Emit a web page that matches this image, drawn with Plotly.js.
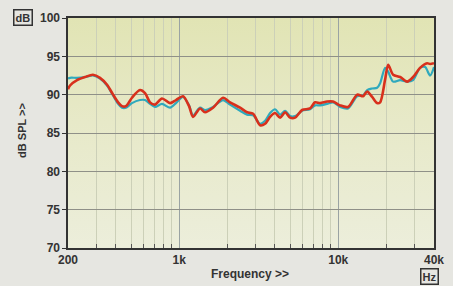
<!DOCTYPE html>
<html>
<head>
<meta charset="utf-8">
<script src="https://cdn.plot.ly/plotly-3.0.1.min.js"></script>
<style>
html,body{margin:0;padding:0;background:#e6e6e1;}
#wrap{position:relative;width:453px;height:286px;}
#bg{position:absolute;left:68px;top:18px;width:366px;height:230px;background:linear-gradient(to bottom,#e1e4b4 0%,#e7e9c8 45%,#eceedb 100%);}
#chart{position:absolute;left:0;top:0;width:453px;height:286px;}
</style>
</head>
<body>
<div id="wrap"><div id="bg"></div><div id="chart"></div></div>
<script>
const freqRed = [200,206,228,256,287,318,352,384,413,437,463,505,567,610,656,705,780,876,955,1057,1154,1222,1352,1455,1633,1887,2089,2415,2672,2916,3226,3468,3728,4007,4310,4634,4980,5354,5928,6650,7150,7690,8510,9280,10280,11530,13150,14330,15200,16340,17550,18340,19720,20600,22140,24490,27100,29560,32700,36200,37800,40000];
const splRed  = [90.7,91.2,91.9,92.3,92.6,92.2,91.3,90.0,89.0,88.5,88.5,89.6,90.6,90.2,89.0,88.7,89.5,88.9,89.3,89.8,88.5,87.1,88.2,87.7,88.3,89.6,89.0,88.3,87.7,87.5,86.0,86.2,87.1,87.6,87.0,87.7,87.0,87.0,88.0,88.2,89.0,88.9,89.1,89.1,88.6,88.4,90.0,89.8,90.4,89.7,88.9,89.0,92.0,93.9,92.6,92.3,91.7,92.3,93.5,94.1,94.0,94.1];
const freqCyan = [200,206,228,256,287,318,352,384,413,437,463,505,567,610,656,705,780,876,955,1057,1154,1222,1352,1455,1633,1887,2089,2415,2672,2916,3226,3468,3728,4007,4310,4634,4980,5354,5928,6650,7150,7690,8510,9280,10280,11530,13150,14330,15200,16340,17550,18340,19720,20600,22140,24490,27100,29560,32700,35200,37800,40000];
const splCyan = [92.1,92.2,92.2,92.3,92.5,92.1,91.2,89.9,88.8,88.3,88.3,88.9,89.3,89.3,88.8,88.4,88.8,88.3,88.9,89.7,88.6,87.3,88.3,88.0,88.4,89.3,88.7,87.9,87.4,87.3,86.2,86.6,87.6,88.1,87.4,87.9,87.2,87.2,87.9,88.1,88.6,88.6,88.8,89.0,88.4,88.2,89.8,89.9,90.6,90.8,90.9,91.5,93.5,93.0,91.7,91.9,91.7,91.9,93.5,93.6,92.5,93.6];
const xTickVals = [200,1000,10000,40000];
const xTickText = ['200','1k','10k','40k'];
const xMinorVals = [300,400,500,600,700,800,900,2000,3000,4000,5000,6000,7000,8000,9000,20000,30000];
const yTickVals = [70,75,80,85,90,95,100];

const traces = [
  {x:freqCyan,y:splCyan,type:'scatter',mode:'lines',line:{color:'#2fa9bd',width:2.2,shape:'spline',smoothing:0.8},hoverinfo:'skip'},
  {x:freqRed,y:splRed,type:'scatter',mode:'lines',line:{color:'#d8301c',width:2.6,shape:'spline',smoothing:0.8},hoverinfo:'skip'}
];
const tf = {family:'Liberation Sans, Arial, sans-serif',size:12,color:'#333333',weight:'bold'};
const af = {family:'Liberation Sans, Arial, sans-serif',size:11,color:'#333333'};
const layout = {
  width:453,height:286,
  margin:{l:68,r:19,t:18,b:38},
  paper_bgcolor:'rgba(0,0,0,0)',plot_bgcolor:'rgba(0,0,0,0)',
  showlegend:false,
  xaxis:{type:'log',range:[Math.log10(200),Math.log10(40000)],tickmode:'array',tickvals:xTickVals,ticktext:xTickText,
    showgrid:true,gridcolor:'#9aa3a3',gridwidth:1,ticks:'',tickfont:tf,
    showline:true,linecolor:'#333333',linewidth:1.6,mirror:true,zeroline:false,
    minor:{tickmode:'array',tickvals:xMinorVals,showgrid:true,gridcolor:'#ccd0b8',gridwidth:1,ticks:'inside',ticklen:4,tickcolor:'#555555'}},
  yaxis:{range:[70,100],tickmode:'array',tickvals:yTickVals,showgrid:true,gridcolor:'#8f9088',gridwidth:1,
    ticks:'outside',ticklen:4,tickcolor:'#333333',tickfont:tf,
    showline:true,linecolor:'#333333',linewidth:1.6,mirror:true,zeroline:false},
  annotations:[
    {text:'<b>dB</b>',xref:'paper',yref:'paper',x:-0.123,y:1.004,xanchor:'center',yanchor:'middle',showarrow:false,font:af,bordercolor:'#333333',borderwidth:1.5,borderpad:1},
    {text:'<b>Hz</b>',xref:'paper',yref:'paper',x:0.989,y:-0.126,xanchor:'center',yanchor:'middle',showarrow:false,font:af,bordercolor:'#333333',borderwidth:1.5,borderpad:1},
    {text:'<b>Frequency &gt;&gt;</b>',xref:'paper',yref:'paper',x:0.497,y:-0.113,xanchor:'center',yanchor:'middle',showarrow:false,font:{family:af.family,size:12,color:'#333333'}},
    {text:'<b>dB SPL &gt;&gt;</b>',xref:'paper',yref:'paper',x:-0.126,y:0.513,xanchor:'center',yanchor:'middle',textangle:-90,showarrow:false,font:af}
  ]
};
Plotly.newPlot('chart',traces,layout,{displayModeBar:false,staticPlot:true});
</script>
</body>
</html>
